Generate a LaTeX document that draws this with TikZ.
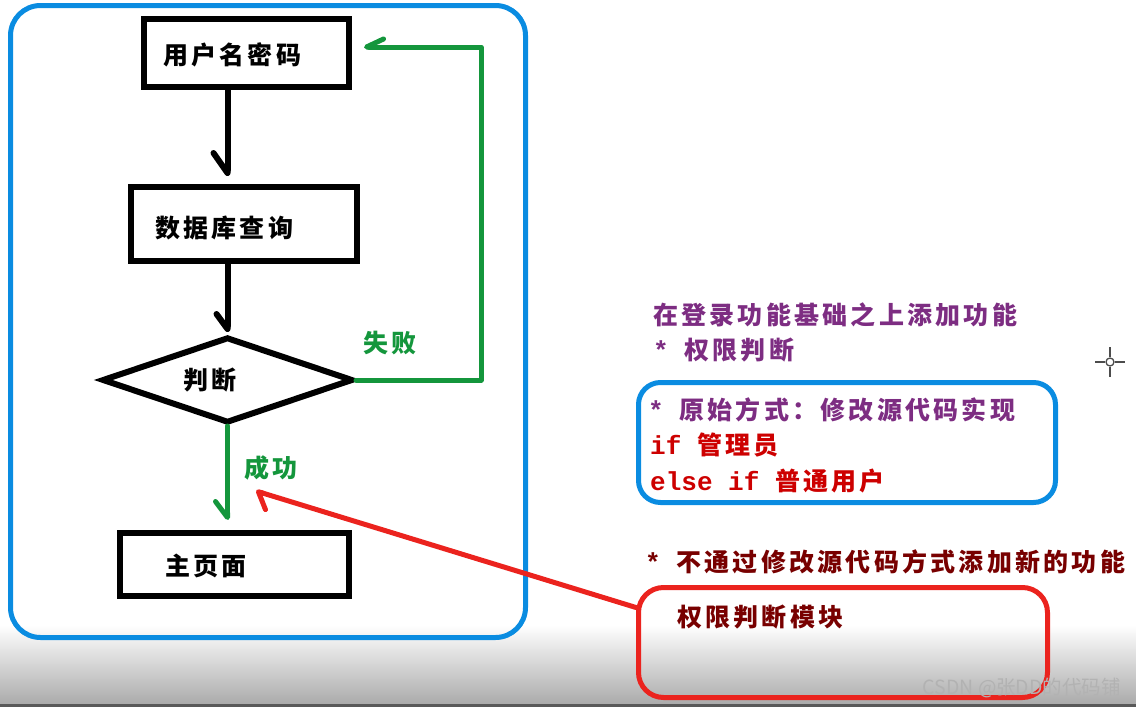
\documentclass[tikz,border=0pt]{standalone}
\usepackage{fontspec}
\usetikzlibrary{arrows.meta,shapes.geometric}
\newfontfamily\cjk{Noto Sans CJK SC}[LetterSpace=13]
\newfontfamily\cjkplain{Noto Sans CJK SC}
\newfontfamily\mono{Liberation Mono}
\definecolor{bblue}{RGB}{10,140,225}
\definecolor{fgreen}{RGB}{20,150,60}
\definecolor{arred}{RGB}{235,35,30}
\definecolor{tpurple}{RGB}{125,45,130}
\definecolor{codered}{RGB}{205,0,0}
\definecolor{dkred}{RGB}{120,0,0}
\tikzset{
  fbox/.style={draw=black, line width=6pt, inner sep=0pt},
  bluebox/.style={draw=bblue, line width=5pt, inner sep=0pt},
  redbox/.style={draw=arred, line width=5pt, inner sep=0pt, rounded corners=25pt},
  txt/.style={inner sep=0pt, anchor=west, font=\cjk\bfseries\fontsize{25pt}{28pt}\selectfont},
  blkarrow/.style={draw=black, line width=6pt, line cap=round},
  grnarrow/.style={draw=fgreen, line width=5pt, line cap=round, line join=round},
  redarrow/.style={draw=arred, line width=5pt, line cap=round},
}
\newcommand{\mytt}[1]{{\mono\bfseries\fontsize{26pt}{28pt}\selectfont #1}}
\begin{document}
\begin{tikzpicture}[x=1pt,y=-1pt]
\useasboundingbox (0,0) rectangle (1136,707);
\shade[top color=white,bottom color=black!33] (0,625) rectangle (1136,704);
\fill[black!65] (0,704) rectangle (1136,707);

% outer blue frame
\node[bluebox, rounded corners=30pt, minimum width=515pt, minimum height=632pt] (outer) at (268,321.5) {};

% flow boxes
\node[fbox, minimum width=205pt, minimum height=68pt] (b1) at (246.5,53) {};
\node[txt] (t1) at (163,55) {用户名密码};
\node[fbox, minimum width=226pt, minimum height=74pt] (b2) at (244,224) {};
\node[txt] (t2) at (155,228) {数据库查询};
\node[fbox, diamond, aspect=2.9, minimum width=251pt, minimum height=86pt] (d) at (227.5,380) {};
\node[txt] (t3) at (183,380) {判断};
\node[fbox, minimum width=229pt, minimum height=63pt] (b3) at (234.5,564.5) {};
\node[txt] (t4) at (165,566) {主页面};

% black arrows
\draw[blkarrow, -{Straight Barb[right,length=20pt,width=28pt,round]}, shorten >=8pt] (b1.south -| d.north) -- (b2.north -| d.north);
\draw[blkarrow, -{Straight Barb[right,length=15pt,width=22pt,round]}, shorten >=2pt] (b2.south -| d.north) -- (d.north);

% green arrows
\draw[grnarrow, -{Straight Barb[right,length=17pt,width=16pt,round]}] (d.east) -- ++(125,0) |- ([xshift=12pt,yshift=6pt]b1.east);
\node[txt, text=fgreen] (fail) at (363,343) {失败};
\draw[grnarrow, -{Straight Barb[right,length=16pt,width=24pt,round]}, shorten >=10pt] (d.south) -- (d.south |- b3.north);
\node[txt, text=fgreen] (succ) at (244,468) {成功};

% right side texts
\node[txt, text=tpurple] (r1) at (653,315) {在登录功能基础之上添加功能};
\node[txt, text=tpurple] (r2) at (653,350) {\mytt{* }权限判断};
\node[bluebox, rounded corners=22pt, minimum width=417pt, minimum height=120pt] (bb) at (847,442.5) {};
\node[txt, text=tpurple] (r3) at (648,410) {\mytt{* }原始方式：修改源代码实现};
\node[txt, text=codered] (r4) at (650,445) {\mytt{if }管理员};
\node[txt, text=codered] (r5) at (650,481) {\mytt{else if }普通用户};
\node[txt, text=dkred] (r6) at (645,562) {\mytt{* }不通过修改源代码方式添加新的功能};
\node[redbox, minimum width=409pt, minimum height=110pt] (rb) at (843,642.5) {};
\node[txt, text=dkred] (r7) at (677,617) {权限判断模块};

% red arrow
\coordinate (rtip) at (256,491);
\draw[redarrow, -{Straight Barb[left,length=12pt,width=30pt,round]}] ([yshift=35pt]rb.west) -- (rtip);

% crosshair
\draw[black!70, line width=1.3pt] (1110,362) circle (4pt);
\draw[black!70, line width=1.3pt] (1110,347) -- (1110,357) (1110,367) -- (1110,377) (1095,362) -- (1105,362) (1115,362) -- (1125,362);

% watermark
\node[inner sep=0pt, anchor=east, text=black!30, font=\cjkplain\fontsize{19.5pt}{22pt}\selectfont] (wm) at (1121,688) {CSDN @张DD的代码铺};
\end{tikzpicture}
\end{document}
